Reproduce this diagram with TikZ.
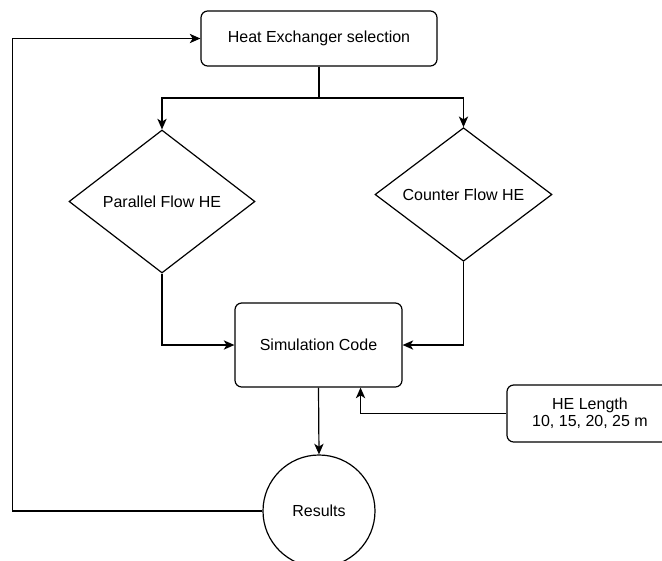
\documentclass[tikz,border=0pt]{standalone}
\usepackage{fontspec}
\setmainfont{Liberation Sans}
\usetikzlibrary{shapes.geometric, arrows.meta, positioning, calc}

\begin{document}
\begin{tikzpicture}[x=0.75pt, y=-0.75pt]
        % Define block styles
        \tikzstyle{process} = [rectangle, rounded corners=5pt, text centered, draw=black, line width=0.9pt, font=\fontsize{12}{13}\selectfont]
        \tikzstyle{decision} = [diamond, inner sep=0pt, text centered, draw=black, line width=0.9pt, font=\fontsize{12}{13}\selectfont]
        \tikzstyle{result} = [circle, minimum size=84pt, inner sep=0pt, text centered, draw=black, line width=0.9pt, font=\fontsize{12}{13}\selectfont]
        \tikzstyle{arrow} = [line width=0.9pt, -{Stealth[length=8pt, width=7pt, inset=2.2pt]}]
        \tikzstyle{line} = [line width=0.9pt]

        \clip (0,0) rectangle (662,561);

        % Nodes
        \node (select) [process, minimum width=177pt, minimum height=41.25pt] at (319,38.5) {Heat Exchanger selection};
        \node (parallel) [decision, minimum width=139.5pt, minimum height=107.25pt] at (162,201.5) {Parallel Flow HE};
        \node (counter) [decision, minimum width=132.75pt, minimum height=95.25pt] at (463.5,194.5) {Counter Flow HE};
        \node (sim) [process, minimum width=125.25pt, minimum height=63pt] at (318.5,345) {Simulation Code};
        \node (len) [process, align=center, minimum width=124.5pt, minimum height=42.75pt] at (590,413.5) {HE Length\\10, 15, 20, 25 m};
        \node (res) [result] at (319,511) {Results};
        \coordinate (split) at (319,98);

        % Arrows
        \draw [line] (select.south) -- (split);
        \draw [arrow] (split) -| (parallel.north);
        \draw [arrow] (split) -| (counter.north);
        \draw [arrow] (parallel.south) |- (sim.west);
        \draw [arrow] (counter.south) |- (sim.east);
        \draw [arrow] (len.west) -| ($(sim.south)!0.5!(sim.south east)$);
        \draw [arrow] (sim.south) -- (res.north);

        % The feedback loop
        \draw [arrow] (res.west) -- ++(-250,0) |- (select.west);
\end{tikzpicture}
\end{document}
